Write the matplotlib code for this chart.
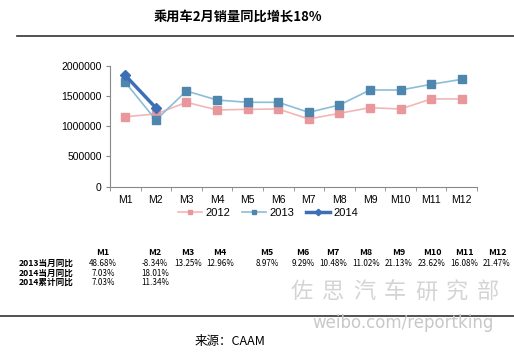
import numpy as np
import matplotlib.pyplot as plt

plt.rcParams['font.family'] = ['Noto Sans CJK SC', 'DejaVu Sans']

months = ['M1', 'M2', 'M3', 'M4', 'M5', 'M6', 'M7', 'M8', 'M9', 'M10', 'M11', 'M12']
sales_2012 = [1157000, 1202000, 1395000, 1268000, 1279000, 1284000,
              1119000, 1213000, 1306000, 1284000, 1450000, 1450000]
sales_2013 = [1725000, 1102000, 1582000, 1433000, 1395000, 1395000,
              1229000, 1350000, 1598000, 1598000, 1692000, 1775000]
sales_2014 = [1840000, 1303000]

yoy_2013 = ['48.68%', '-8.34%', '13.25%', '12.96%', '8.97%', '9.29%',
            '10.48%', '11.02%', '21.13%', '23.62%', '16.08%', '21.47%']
yoy_2014 = ['7.03%', '18.01%']
cum_2014 = ['7.03%', '11.34%']
row_labels = ['2013当月同比', '2014当月同比', '2014累计同比']

W, H = 514, 354
fig = plt.figure(figsize=(W / 100, H / 100), dpi=100)
fig.patch.set_facecolor('white')

# main chart area
ax = fig.add_axes([110 / W, 1 - 186.7 / H, 367 / W, 121 / H])
x = np.arange(len(months))
ax.plot(x, sales_2012, color='#f2b6b8', lw=1.2, marker='s', ms=5.5,
        mfc='#e8979b', mec='#e8979b', label='2012')
ax.plot(x, sales_2013, color='#8cbdd6', lw=1.2, marker='s', ms=5.5,
        mfc='#4f86ad', mec='#4f86ad', label='2013')
ax.plot(x[:len(sales_2014)], sales_2014, color='#3d6fb8', lw=2.5,
        marker='D', ms=5.5, mfc='#3d6fb8', mec='#3d6fb8', label='2014')

ax.set_xlim(-0.5, len(months) - 0.5)
ax.set_ylim(0, 2000000)
ax.set_yticks([0, 500000, 1000000, 1500000, 2000000])
ax.set_yticklabels(['0', '500000', '1000000', '1500000', '2000000'],
                   fontsize=7.5, family='Liberation Sans')
ax.set_xticks(x)
ax.set_xticklabels(months, fontsize=7.5, family='Liberation Sans')
ax.set_xticks(np.arange(-0.5, len(months)), minor=True)
ax.tick_params(axis='x', which='major', length=0, pad=6)
ax.tick_params(axis='x', which='minor', length=3, color='#888888')
ax.tick_params(axis='y', length=3, color='#888888', pad=3)
for s in ['top', 'right']:
    ax.spines[s].set_visible(False)
for s in ['left', 'bottom']:
    ax.spines[s].set_color('#888888')
    ax.spines[s].set_linewidth(0.8)

leg = fig.legend(loc='center', bbox_to_anchor=(268 / W, 1 - 212.5 / H), ncol=3,
                 frameon=False, prop={'family': 'Liberation Sans', 'size': 8},
                 handlelength=2.2, columnspacing=1.0,
                 handletextpad=0.3, markerscale=0.6)

# title and rules
fig.text(238 / W, 1 - 17 / H, '乘用车2月销量同比增长18%', ha='center', va='center',
         fontsize=9.5, fontweight='bold')
fig.add_artist(plt.Line2D([17 / W, 1], [1 - 36 / H] * 2, color='#333333', lw=1.2))
fig.add_artist(plt.Line2D([0, 1], [1 - 315.7 / H] * 2, color='#333333', lw=1.2))

# watermark
for i, ch in enumerate('佐思汽车研究部'):
    fig.text((302 + i * 31) / W, 1 - 292 / H, ch, ha='center', va='center',
             fontsize=16, color='#d4d4d4')
fig.text(403 / W, 1 - 323 / H, 'weibo.com/reportking', ha='center', va='center',
         fontsize=12, color='#c8c8c8', family='Liberation Sans Narrow')

# table of growth rates
col_x = [103, 155, 188, 220, 267, 303, 333, 366, 399, 432, 464, 497]
for cx, m in zip(col_x, months):
    fig.text(cx / W, 1 - 252.7 / H, m, ha='center', va='center',
             fontsize=6.5, fontweight='bold')
row_y = [263.3, 273.3, 282.7]
for ry, lab in zip(row_y, row_labels):
    fig.text(19 / W, 1 - ry / H, lab, ha='left', va='center',
             fontsize=6.2, fontweight='bold')
for vals, ry in zip([yoy_2013, yoy_2014, cum_2014], row_y):
    for cx, v in zip(col_x, vals):
        fig.text(cx / W, 1 - ry / H, v, ha='center', va='center', fontsize=5.8)

fig.text(195 / W, 1 - 341.7 / H, '来源：CAAM', ha='left', va='center', fontsize=9)

fig.savefig('out.png', dpi=100)
